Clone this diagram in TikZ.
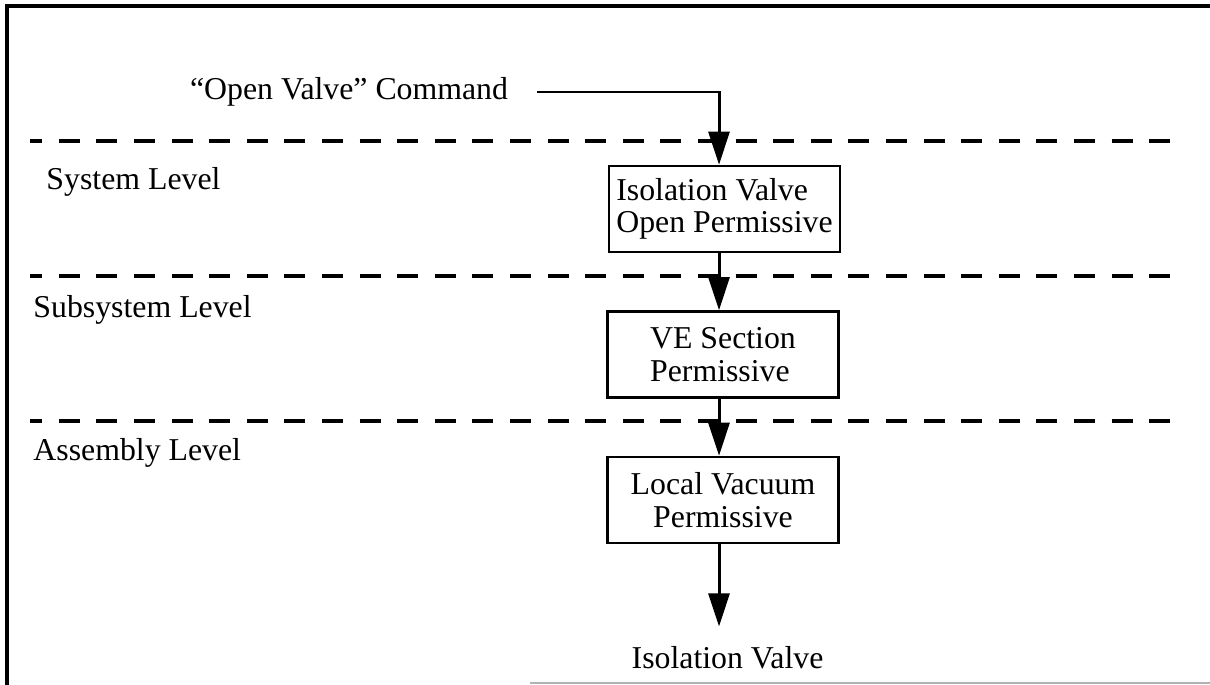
\documentclass[tikz,border=0pt]{standalone}
\usepackage{fontspec}
\setmainfont{Liberation Serif}
\usetikzlibrary{arrows.meta}
\begin{document}
\begin{tikzpicture}
  [x=0.02cm,y=-0.02cm,line width=1.7pt,
   every node/.style={font=\fontsize{18.1}{18.6}\selectfont,inner sep=0pt}]
  \tikzstyle{box} = [draw,line width=1.5pt,minimum width=4.62cm,minimum height=1.72cm]
  \tikzstyle{level} = [dash pattern=on 11.9pt off 9.5pt,dash phase=5pt,line width=2pt]
  \tikzstyle{flow} = [-{Triangle[length=0.66cm,width=0.42cm]}]
  \useasboundingbox (0,0) rectangle (1210,685);
  % frame
  \draw[line width=1.9pt] (7,685) -- (7,6) -- (1210,6);
  \draw[black!30,line width=0.6pt] (530,683) -- (1210,683);
  % level separators
  \foreach \y in {141,276,421}
    \draw[level] (30,\y) -- (1186,\y);
  \node[anchor=base west] (sys) at (45,190) {System Level};
  \node[anchor=base west] (sub) at (32,318) {Subsystem Level};
  \node[anchor=base west] (asm) at (32,461) {Assembly Level};
  % permissive chain
  \coordinate (col) at (719,0);
  \node[anchor=east,outer xsep=0.58cm] (cmd) at (537,92) {``Open Valve'' Command};
  \node[box,align=left] (b1) at (724.5,209) {Isolation Valve\\Open Permissive};
  \node[box,align=left] (b2) at (723,354.5) {VE Section\\Permissive};
  \node[box,align=center] (b3) at (723,500) {Local Vacuum\\Permissive};
  \node[anchor=base,outer ysep=0.39cm] (valve) at (727.5,668) {Isolation Valve};
  \draw[flow] (cmd.east) -| (col |- b1.north);
\foreach \a/\b in {b1/b2,b2/b3,b3/valve}
   \draw[flow] (col |- \a.south) -- (col |- \b.north);

\end{tikzpicture}
\end{document}
